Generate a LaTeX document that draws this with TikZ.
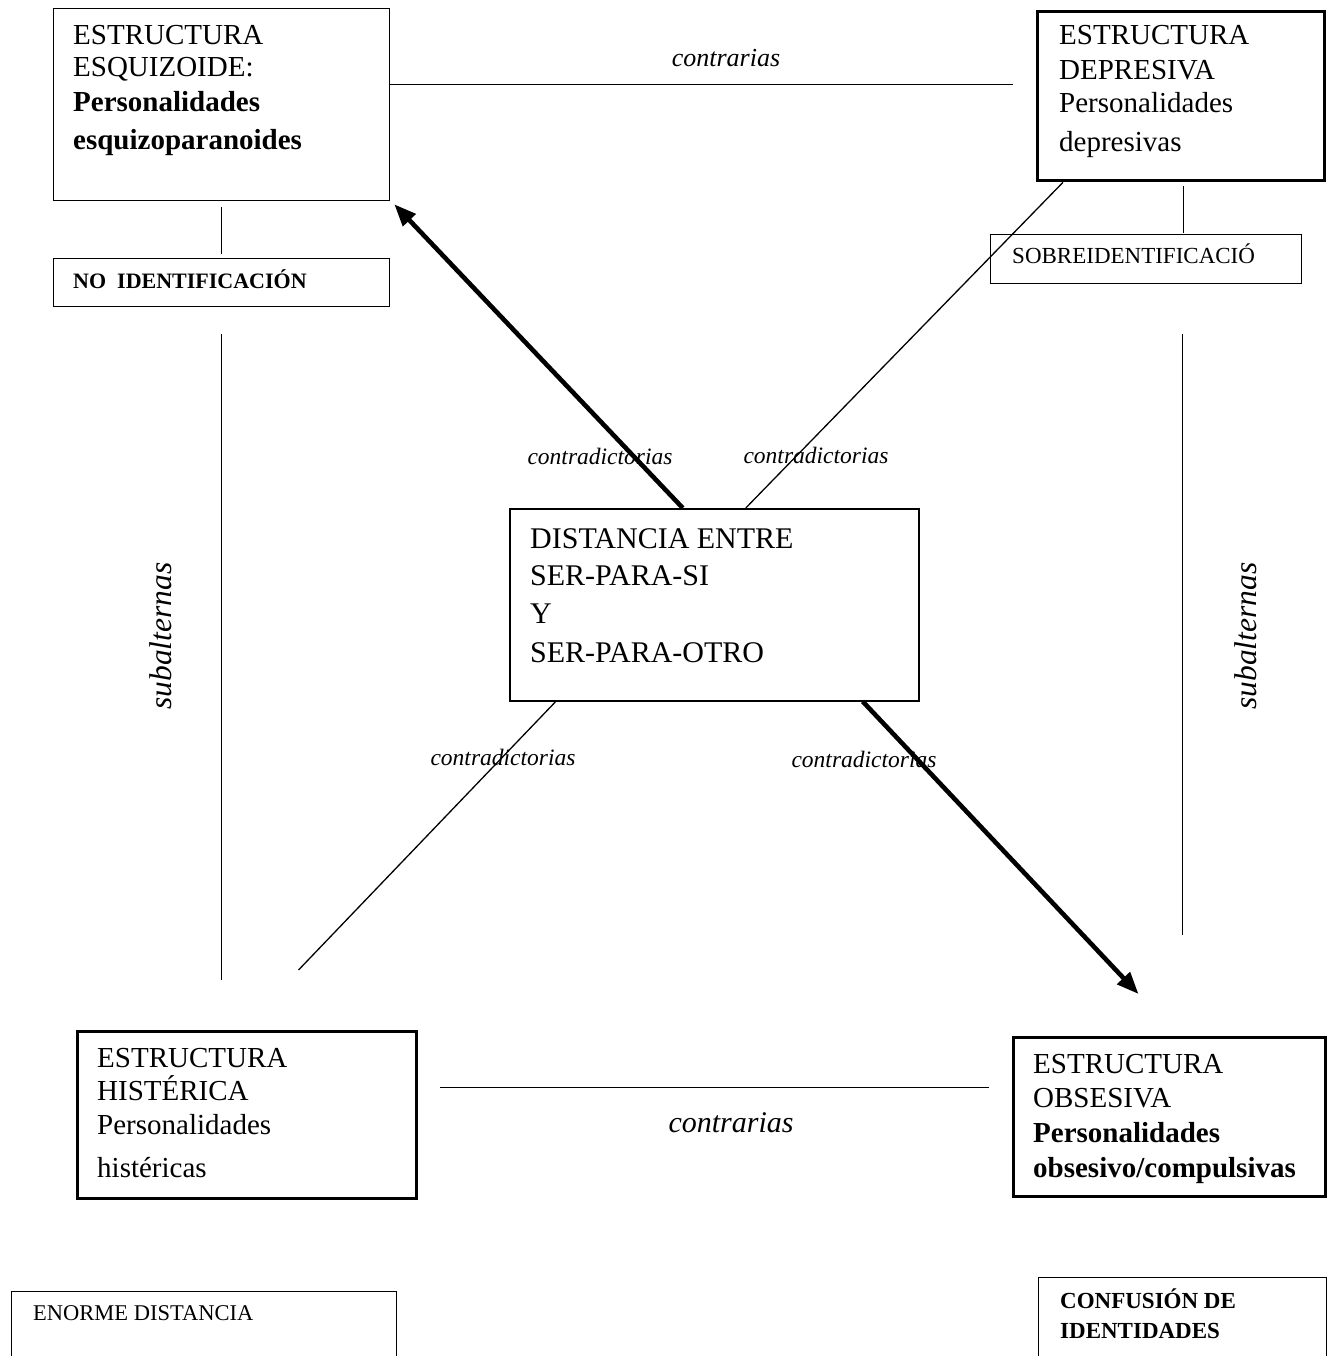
\documentclass[tikz,border=0pt]{standalone}
\usepackage{fontspec}
\setmainfont{Liberation Serif}
\usetikzlibrary{arrows.meta}
\begin{document}
\begin{tikzpicture}[x=1pt,y=-1pt,
  boxthin/.style={draw, line width=1.3pt, inner sep=0pt, anchor=north west},
  boxthick/.style={draw, line width=3pt, inner sep=0pt, anchor=north west},
  big/.style={inner sep=0pt, anchor=base west, font=\fontsize{29}{34}\selectfont},
  mid/.style={inner sep=0pt, anchor=base west, font=\fontsize{30}{36}\selectfont},
  small/.style={inner sep=0pt, anchor=base west, font=\fontsize{22.5}{27}\selectfont},
  lbl/.style={inner sep=0pt, anchor=base, font=\fontsize{23.5}{28}\selectfont\itshape},
  conn/.style={line width=1.3pt},
  heavy/.style={line width=4.6pt, -{Triangle[length=22pt,width=17pt]}}
]
\useasboundingbox (0,0) rectangle (1329,1356);

% boxes
\node[boxthin, minimum width=336pt, minimum height=192pt] (esq) at (53,8) {};
\node[boxthin, minimum width=336pt, minimum height=48pt] (noid) at (53,258) {};
\node[boxthick, line width=3.3pt, minimum width=287pt, minimum height=169pt] (dep) at (1036,10) {};
\node[boxthin, minimum width=311pt, minimum height=49pt] (sobre) at (990,234) {};
\node[boxthin, line width=1.5pt, minimum width=409pt, minimum height=192pt] (cen) at (509,508) {};
\node[boxthick, minimum width=339pt, minimum height=167pt] (hist) at (76,1030) {};
\node[boxthin, minimum width=385pt, minimum height=90pt] (enorme) at (11,1291) {};
\node[boxthick, minimum width=312pt, minimum height=159pt] (obs) at (1012,1036) {};
\node[boxthin, minimum width=288pt, minimum height=100pt] (conf) at (1038,1277) {};

% texts
\node[big] (t1a) at (73,45) {ESTRUCTURA};
\node[big] (t1b) at (73,77) {ESQUIZOIDE:};
\node[big] (t1c) at (73,112) {\textbf{Personalidades}};
\node[big] (t1d) at (73,150) {\textbf{esquizoparanoides}};
\node[small, font=\fontsize{22}{26}\selectfont\bfseries] (t2) at (73,288) {NO\ \ IDENTIFICACIÓN};

\node[big] (t3a) at (1059,45) {ESTRUCTURA};
\node[big] (t3b) at (1059,80) {DEPRESIVA};
\node[big] (t3c) at (1059,113) {Personalidades};
\node[big] (t3d) at (1059,152) {depresivas};
\node[small, font=\fontsize{23}{27}\selectfont] (t4) at (1012,263) {SOBREIDENTIFICACIÓ};

\node[mid] (c1) at (530,548) {DISTANCIA ENTRE};
\node[mid] (c2) at (530,585) {SER-PARA-SI};
\node[mid] (c3) at (530,623) {Y};
\node[mid] (c4) at (530,662) {SER-PARA-OTRO};

\node[big] (t5a) at (97,1067) {ESTRUCTURA};
\node[big] (t5b) at (97,1100) {HISTÉRICA};
\node[big] (t5c) at (97,1134) {Personalidades};
\node[big] (t5d) at (97,1177) {histéricas};
\node[small] (t6) at (33,1320) {ENORME DISTANCIA};

\node[big] (t7a) at (1033,1073) {ESTRUCTURA};
\node[big] (t7b) at (1033,1107) {OBSESIVA};
\node[big] (t7c) at (1033,1142) {\textbf{Personalidades}};
\node[big] (t7d) at (1033,1177) {\textbf{obsesivo/compulsivas}};
\node[small, font=\fontsize{23}{27}\selectfont\bfseries] (t8a) at (1060,1308) {CONFUSIÓN DE};
\node[small, font=\fontsize{23}{27}\selectfont\bfseries] (t8b) at (1060,1338) {IDENTIDADES};

% labels
\node[lbl, font=\fontsize{26}{30}\selectfont\itshape] (ct) at (726,67) {contrarias};
\node[lbl, font=\fontsize{30}{34}\selectfont\itshape] (cb) at (731,1132) {contrarias};
\node[lbl] (k1) at (600,464) {contradictorias};
\node[lbl] (k2) at (816,463) {contradictorias};
\node[lbl] (k3) at (503,765) {contradictorias};
\node[lbl] (k4) at (864,767) {contradictorias};
\node[inner sep=0pt, rotate=90, font=\fontsize{31.5}{36}\selectfont\itshape] (s1) at (161,636) {subalternas};
\node[inner sep=0pt, rotate=90, font=\fontsize{31.5}{36}\selectfont\itshape] (s2) at (1246,636) {subalternas};

% connectors
\draw[conn, shorten <=6pt, shorten >=4pt] (esq.south) -- (noid.north);
\draw[conn, shorten <=4pt, shorten >=1pt] ([xshift=2.5pt]dep.south) -- ([xshift=2.5pt]dep.south |- sobre.north);
\draw[conn, shorten >=23pt] ([yshift=20pt]esq.east) -- ([yshift=20pt]esq.east -| dep.west);
\draw[conn, shorten <=22pt, shorten >=23pt] ([yshift=27.5pt]hist.east) -- ([yshift=27.5pt]hist.east -| obs.west);
\draw[conn, shorten <=27pt, shorten >=50pt] (noid.south) -- (noid.south |- hist.north);
\draw[conn, shorten <=50pt, shorten >=101pt] ([xshift=36.5pt]sobre.south) -- ([xshift=36.5pt]sobre.south |- obs.north);
\draw[conn] ([xshift=31.5pt]cen.north) -- ([xshift=27pt]dep.south west);
\draw[conn] ([xshift=-158.5pt]cen.south) -- ([xshift=51.5pt,yshift=60pt]hist.north);
\draw[heavy] ([xshift=-31.5pt]cen.north) -- ([xshift=4pt,yshift=-3pt]esq.south east);
\draw[heavy] ([xshift=148.5pt]cen.south) -- ([xshift=-31pt,yshift=42pt]obs.north);
\end{tikzpicture}
\end{document}
